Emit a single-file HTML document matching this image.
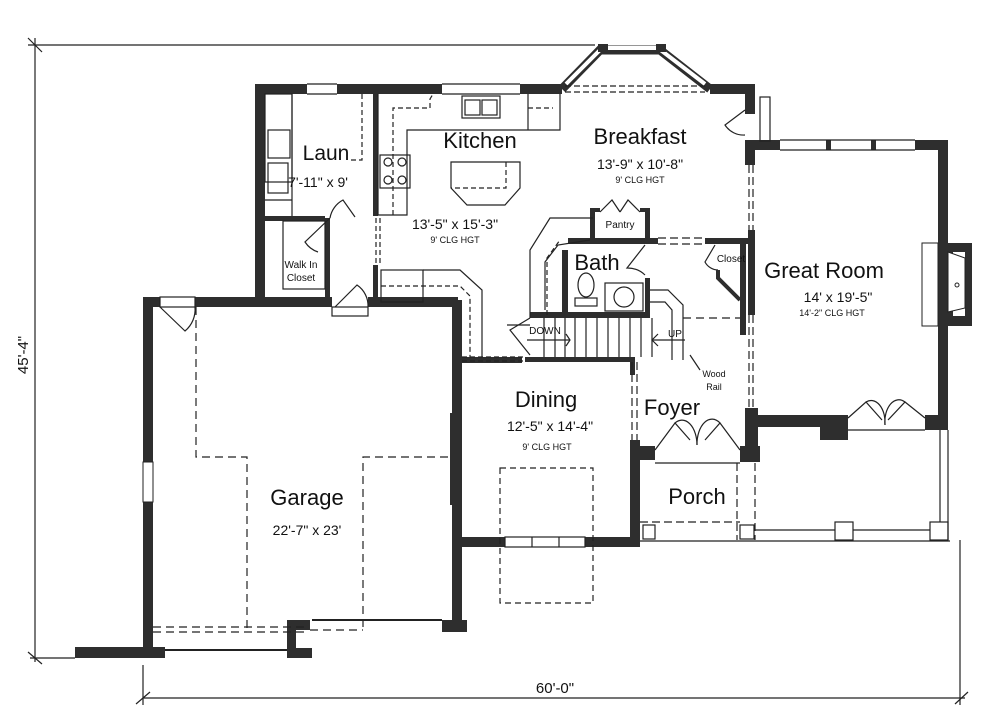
<!DOCTYPE html>
<html><head><meta charset="utf-8"><style>
html,body{margin:0;padding:0;background:#fff;}
svg{display:block;}
text{font-family:"Liberation Sans",Arial,sans-serif;fill:#111;}
</style></head><body>
<svg width="1000" height="724" viewBox="0 0 1000 724" xmlns="http://www.w3.org/2000/svg">
<g stroke="#222" stroke-width="1.2" fill="none">
 <line x1="28" y1="45" x2="595" y2="45"/>
 <line x1="35" y1="38" x2="35" y2="662"/>
 <line x1="30" y1="658" x2="75" y2="658"/>
 <line x1="28" y1="652" x2="42" y2="664"/>
 <line x1="28" y1="38" x2="42" y2="52"/>
 <line x1="143" y1="665" x2="143" y2="705"/>
 <line x1="143" y1="698" x2="965" y2="698"/>
 <line x1="136" y1="704" x2="150" y2="692"/>
 <line x1="955" y1="704" x2="968" y2="692"/>
 <line x1="960" y1="540" x2="960" y2="705"/>
</g>
<text x="28" y="355" font-size="15" text-anchor="middle" transform="rotate(-90 28 355)">45'-4"</text>
<text x="555" y="693" font-size="15" text-anchor="middle">60'-0"</text>

<g fill="#2e2e2e">
 <rect x="255" y="84" width="52" height="10"/>
 <rect x="337" y="84" width="105" height="10"/>
 <rect x="520" y="84" width="42" height="10"/>
 <rect x="710" y="84" width="40" height="10"/>
 <rect x="255" y="84" width="10" height="222"/>
 <rect x="373" y="94" width="5" height="122"/>
 <rect x="373" y="265" width="5" height="40"/>
 <rect x="265" y="216" width="60" height="5"/>
 <rect x="325" y="218" width="5" height="85"/>
 <rect x="143" y="297" width="17" height="10"/>
 <rect x="195" y="297" width="137" height="10"/>
 <rect x="368" y="297" width="90" height="10"/>
 <rect x="143" y="297" width="10" height="165"/>
 <rect x="143" y="502" width="10" height="156"/>
 <rect x="75" y="647" width="90" height="11"/>
 <rect x="452" y="300" width="10" height="113"/>
 <rect x="450" y="413" width="12" height="92"/>
 <rect x="452" y="505" width="10" height="127"/>
 <rect x="442" y="620" width="25" height="12"/>
 <rect x="287" y="620" width="23" height="10"/>
 <rect x="287" y="620" width="9" height="38"/>
 <rect x="287" y="648" width="25" height="10"/>
 <rect x="462" y="357" width="60" height="6"/>
 <rect x="460" y="537" width="45" height="10"/>
 <rect x="585" y="537" width="55" height="10"/>
 <rect x="630" y="440" width="10" height="107"/>
 <rect x="630" y="357" width="5" height="18"/>
 <rect x="630" y="446" width="25" height="14"/>
 <rect x="740" y="446" width="20" height="16"/>
 <rect x="745" y="408" width="13" height="54"/>
 <rect x="745" y="140" width="10" height="25"/>
 <rect x="748" y="230" width="7" height="85"/>
 <rect x="755" y="140" width="25" height="10"/>
 <rect x="915" y="140" width="33" height="10"/>
 <rect x="826" y="140" width="5" height="10"/>
 <rect x="871" y="140" width="5" height="10"/>
 <rect x="938" y="140" width="10" height="290"/>
 <rect x="948" y="243" width="24" height="83"/>
 <rect x="755" y="415" width="65" height="12"/>
 <rect x="820" y="415" width="28" height="25"/>
 <rect x="925" y="415" width="23" height="15"/>
 <rect x="745" y="84" width="10" height="30"/>
 <rect x="590" y="208" width="5" height="35"/>
 <rect x="590" y="208" width="10" height="4"/>
 <rect x="640" y="208" width="10" height="4"/>
 <rect x="645" y="208" width="5" height="35"/>
 <rect x="568" y="238" width="90" height="6"/>
 <rect x="705" y="238" width="45" height="6"/>
 <rect x="562" y="250" width="6" height="65"/>
 <rect x="645" y="278" width="5" height="37"/>
 <rect x="530" y="312" width="120" height="6"/>
 <rect x="525" y="357" width="105" height="5"/>
 <rect x="740" y="240" width="6" height="95"/>
</g>
<rect x="953" y="252" width="12" height="64" fill="#fff"/>
<polygon points="948,252 965,258 965,308 948,312" fill="#fff" stroke="#222"/>
<circle cx="957" cy="285" r="2" fill="none" stroke="#222"/>
<rect x="922" y="243" width="16" height="83" fill="#fff" stroke="#222"/>
<rect x="143" y="462" width="10" height="40" fill="#fff" stroke="#222"/>

<g stroke="#222" fill="none" stroke-width="1.2">
 <line x1="307" y1="84" x2="337" y2="84"/><line x1="307" y1="94" x2="337" y2="94"/>
 <line x1="442" y1="84" x2="520" y2="84"/><line x1="442" y1="94" x2="520" y2="94"/>
 <polyline points="562,89 600,50 660,50 710,89" stroke-width="9" stroke="#2e2e2e"/>
 <polyline points="566,84 602,48 658,48 705,84" stroke="#fff" stroke-width="4"/>
 <rect x="598" y="44" width="10" height="8" fill="#2e2e2e" stroke="none"/>
 <rect x="656" y="44" width="10" height="8" fill="#2e2e2e" stroke="none"/>
 <line x1="565" y1="86" x2="705" y2="86" stroke-dasharray="6,3"/>
 <line x1="565" y1="92" x2="705" y2="92" stroke-dasharray="6,3"/>
 <line x1="780" y1="140" x2="915" y2="140"/><line x1="780" y1="150" x2="915" y2="150"/>
 <rect x="760" y="97" width="10" height="44"/>
 <path d="M745,110 L725,125 A22 22 0 0 0 745,135"/>
 <rect x="265" y="94" width="27" height="88"/>
 <rect x="268" y="130" width="22" height="28"/>
 <rect x="268" y="163" width="20" height="30"/>
 <line x1="265" y1="200" x2="292" y2="200"/>
 <line x1="292" y1="94" x2="292" y2="216"/>
 <polyline points="362,94 362,160 350,160" stroke-dasharray="5,3"/>
 <polyline points="378,94 378,215 407,215 407,130 560,130 560,94"/>
 <polyline points="393,215 393,108 430,108 430,99 433,94" stroke-dasharray="5,3"/>
 <rect x="380" y="155" width="30" height="33"/>
 <circle cx="388" cy="162" r="4"/><circle cx="402" cy="162" r="4"/>
 <circle cx="388" cy="180" r="4"/><circle cx="402" cy="180" r="4"/>
 <rect x="462" y="96" width="38" height="22"/>
 <rect x="465" y="100" width="15" height="15"/><rect x="482" y="100" width="15" height="15"/>
 <line x1="528" y1="108" x2="553" y2="108" stroke-dasharray="5,3"/>
 <line x1="528" y1="94" x2="528" y2="130"/>
 <polygon points="451,162 520,162 520,188 505,205 467,205 451,188"/>
 <polyline points="506,162 506,188 451,188" stroke-dasharray="5,3"/>
 <path d="M355,217 L343,200 A25 25 0 0 0 330,218" />
 <path d="M330,218 L305,242 A25 25 0 0 0 318,252"/>
 <rect x="283" y="221" width="42" height="68"/>
 <rect x="332" y="307" width="36" height="9"/>
 <path d="M335,307 L357,285 A25 25 0 0 1 368,307"/>
 <line x1="376" y1="218" x2="376" y2="265" stroke-dasharray="5,3"/>
 <line x1="380" y1="218" x2="380" y2="265" stroke-dasharray="5,3"/>
 <rect x="381" y="270" width="42" height="32"/>
 <polyline points="423,270 460,270 482,290 482,357"/>
 <polyline points="381,286 460,286 470,296 470,357" stroke-dasharray="5,3"/>
 <line x1="462" y1="357" x2="525" y2="357" stroke-dasharray="5,3"/>
 <line x1="462" y1="361" x2="525" y2="361" stroke-dasharray="5,3"/>
 <rect x="160" y="297" width="35" height="10"/>
 <path d="M160,307 L185,331 A28 28 0 0 0 195,307"/>
 <polyline points="196,307 196,457 247,457 247,630" stroke-dasharray="8,5"/>
 <polyline points="448,457 363,457 363,630" stroke-dasharray="8,5"/>
 <line x1="153" y1="627" x2="305" y2="627" stroke-dasharray="8,5"/>
 <line x1="153" y1="632" x2="305" y2="632" stroke-dasharray="8,5"/>
 <line x1="310" y1="630" x2="363" y2="630" stroke-dasharray="8,5"/>
 <line x1="165" y1="650" x2="287" y2="650" stroke-width="2"/>
 <line x1="312" y1="620" x2="442" y2="620" stroke-width="2"/>
 <rect x="505" y="537" width="80" height="10"/>
 <line x1="532" y1="537" x2="532" y2="547"/><line x1="559" y1="537" x2="559" y2="547"/>
 <rect x="500" y="468" width="93" height="135" stroke-dasharray="6,4"/>
 <line x1="565" y1="318" x2="565" y2="357"/>
 <line x1="575" y1="318" x2="575" y2="357"/><line x1="586" y1="318" x2="586" y2="357"/>
 <line x1="597" y1="318" x2="597" y2="357"/><line x1="608" y1="318" x2="608" y2="357"/>
 <line x1="619" y1="318" x2="619" y2="357"/><line x1="630" y1="318" x2="630" y2="357"/>
 <line x1="641" y1="318" x2="641" y2="357"/><line x1="652" y1="318" x2="652" y2="357"/>
 <line x1="544" y1="318" x2="544" y2="357"/><line x1="555" y1="318" x2="555" y2="357"/>
 <polyline points="530,318 530,250 550,218 593,218"/>
 <polyline points="545,310 545,262 558,245 590,240"/>
 <polyline points="547,315 547,258 560,240" stroke-dasharray="5,3"/>
 <polyline points="650,290 668,290 683,305 683,360"/>
 <polyline points="650,302 665,302 672,310 672,360"/>
 <path d="M530,318 L510,330 L530,355"/>
 <line x1="507" y1="325" x2="530" y2="325"/>
 <line x1="527" y1="340" x2="570" y2="340"/><polyline points="566,334 570,340 566,346"/>
 <line x1="652" y1="340" x2="685" y2="340"/><polyline points="658,334 652,340 658,346"/>
 <line x1="683" y1="318" x2="740" y2="318" stroke-dasharray="8,5"/>
 <line x1="690" y1="355" x2="700" y2="370"/>
 <polyline points="600,212 612,200 620,212"/>
 <polyline points="620,212 628,200 640,212"/>
 <line x1="658" y1="238" x2="705" y2="238" stroke-dasharray="8,4"/>
 <line x1="658" y1="244" x2="705" y2="244" stroke-dasharray="8,4"/>
 <path d="M645,245 L627,268 A25 25 0 0 1 645,275"/>
 <ellipse cx="586" cy="285" rx="8" ry="12"/>
 <rect x="575" y="298" width="22" height="8"/>
 <rect x="605" y="283" width="38" height="28"/>
 <circle cx="624" cy="297" r="10"/>
 <path d="M715,245 L705,262 A15 15 0 0 0 718,270"/>
 <polyline points="718,270 718,278 740,300" stroke-width="4" stroke="#2e2e2e"/>
 <line x1="749" y1="165" x2="749" y2="230" stroke-dasharray="8,4"/>
 <line x1="753" y1="165" x2="753" y2="230" stroke-dasharray="8,4"/>
 <line x1="749" y1="315" x2="749" y2="408" stroke-dasharray="8,4"/>
 <line x1="753" y1="315" x2="753" y2="408" stroke-dasharray="8,4"/>
 <line x1="632" y1="362" x2="632" y2="440" stroke-dasharray="8,4"/>
 <line x1="637" y1="362" x2="637" y2="440" stroke-dasharray="8,4"/>
 <line x1="655" y1="463" x2="740" y2="463"/>
 <polyline points="655,450 675,423 690,440"/>
 <polyline points="740,450 720,423 705,440"/>
 <path d="M675,423 A15 25 0 0 1 697,445"/>
 <path d="M720,423 A15 25 0 0 0 697,445"/>
 <line x1="848" y1="430" x2="925" y2="430"/>
 <polyline points="848,418 866,402 882,420"/>
 <polyline points="925,418 905,402 888,420"/>
 <path d="M866,402 A14 22 0 0 1 885,425"/>
 <path d="M905,402 A14 22 0 0 0 885,425"/>
 <line x1="640" y1="541" x2="950" y2="541"/>
 <line x1="640" y1="522" x2="740" y2="522" stroke-dasharray="8,4"/>
 <line x1="737" y1="463" x2="737" y2="540" stroke-dasharray="8,4"/>
 <line x1="755" y1="463" x2="755" y2="540" stroke-dasharray="8,4"/>
 <rect x="643" y="525" width="12" height="14"/>
 <rect x="740" y="525" width="14" height="14"/>
 <rect x="835" y="522" width="18" height="18"/>
 <rect x="930" y="522" width="18" height="18"/>
 <line x1="755" y1="530" x2="835" y2="530"/><line x1="853" y1="530" x2="930" y2="530"/>
 <line x1="940" y1="430" x2="940" y2="522"/><line x1="948" y1="430" x2="948" y2="540"/>
</g>

<g text-anchor="middle">
 <text x="326" y="160" font-size="21">Laun</text>
 <text x="318" y="187" font-size="14">7'-11" x 9'</text>
 <text x="480" y="148" font-size="22">Kitchen</text>
 <text x="455" y="229" font-size="14">13'-5" x 15'-3"</text>
 <text x="455" y="243" font-size="9">9' CLG HGT</text>
 <text x="640" y="144" font-size="22">Breakfast</text>
 <text x="640" y="169" font-size="14">13'-9" x 10'-8"</text>
 <text x="640" y="183" font-size="9">9' CLG HGT</text>
 <text x="824" y="278" font-size="22">Great Room</text>
 <text x="838" y="302" font-size="14">14' x 19'-5"</text>
 <text x="832" y="316" font-size="9">14'-2" CLG HGT</text>
 <text x="546" y="407" font-size="22">Dining</text>
 <text x="550" y="431" font-size="14">12'-5" x 14'-4"</text>
 <text x="547" y="450" font-size="9">9' CLG HGT</text>
 <text x="672" y="415" font-size="22">Foyer</text>
 <text x="697" y="504" font-size="22">Porch</text>
 <text x="307" y="505" font-size="22">Garage</text>
 <text x="307" y="535" font-size="14">22'-7" x 23'</text>
 <text x="597" y="270" font-size="22">Bath</text>
 <text x="620" y="228" font-size="10">Pantry</text>
 <text x="731" y="262" font-size="10">Closet</text>
 <text x="301" y="268" font-size="10">Walk In</text>
 <text x="301" y="281" font-size="10">Closet</text>
 <text x="545" y="334" font-size="10">DOWN</text>
 <text x="675" y="337" font-size="10">UP</text>
 <text x="714" y="377" font-size="9">Wood</text>
 <text x="714" y="390" font-size="9">Rail</text>
</g>
</svg>
</body></html>
